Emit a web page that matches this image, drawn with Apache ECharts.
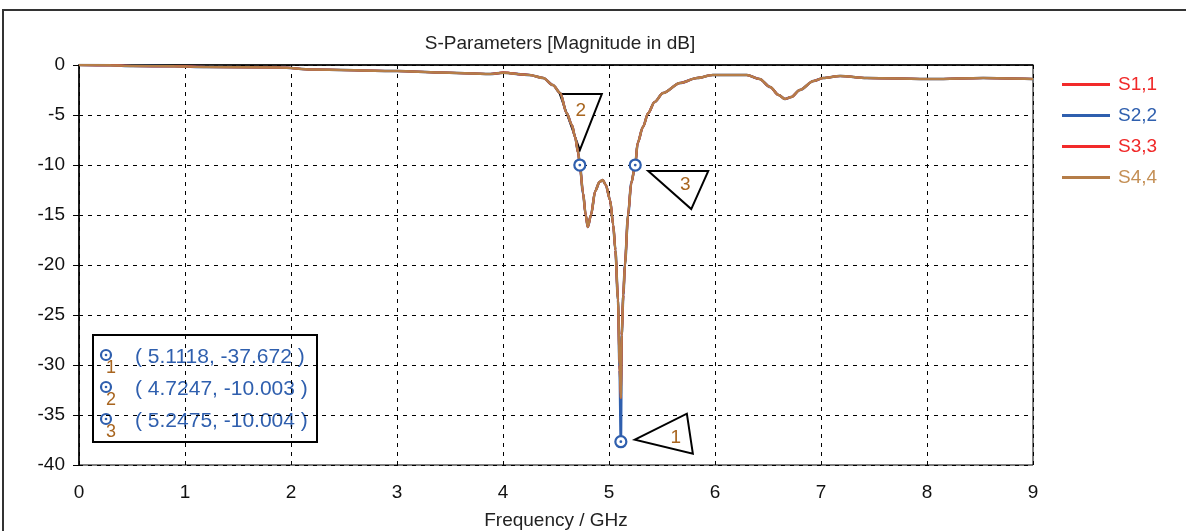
<!DOCTYPE html>
<html><head><meta charset="utf-8">
<script src="https://cdn.jsdelivr.net/npm/echarts@6/dist/echarts.min.js"></script>
<style>html,body{margin:0;padding:0;background:#fff}#c{width:1186px;height:531px}</style>
</head><body><div id="c"></div>
<script>
// ---- data ----
const freq = [0,0.3,0.5,0.9,1.2,1.9,2.2,3.0,3.4,3.88,4.0,4.25,4.38,4.47,4.54,4.6,4.65,4.68,4.71,4.7247,4.755,4.78,4.8,4.83,4.87,4.91,4.94,4.97,5.01,5.04,5.06,5.085,5.1,5.1118,5.12,5.135,5.15,5.18,5.21,5.2475,5.27,5.32,5.37,5.43,5.51,5.67,5.83,5.98,6.3,6.42,6.52,6.6,6.66,6.72,6.8,6.93,7.02,7.18,7.43,8.06,8.53,9];
const s44 = [0,-0.02,-0.1,-0.12,-0.2,-0.25,-0.45,-0.6,-0.75,-0.9,-0.77,-1.0,-1.3,-2.0,-2.8,-4.8,-6.0,-7.2,-8.8,-10.0,-12.8,-15.0,-16.2,-15.0,-12.6,-11.7,-11.5,-12.0,-13.5,-16,-18.5,-23.5,-30,-33.3,-27,-23,-20,-15,-11.8,-10.0,-7.8,-6.2,-4.8,-3.7,-2.8,-1.8,-1.3,-1.0,-1.0,-1.4,-2.2,-3.0,-3.4,-3.2,-2.5,-1.6,-1.3,-1.1,-1.3,-1.4,-1.3,-1.4];
const s22 = [0,-0.02,-0.1,-0.12,-0.2,-0.25,-0.45,-0.6,-0.75,-0.9,-0.77,-1.0,-1.3,-2.0,-2.8,-4.8,-6.0,-7.2,-8.8,-10.003,-12.8,-15.0,-16.2,-15.0,-12.6,-11.7,-11.5,-12.0,-13.5,-16,-18.5,-23.5,-30.5,-37.672,-27,-23,-20,-15,-11.8,-10.004,-7.8,-6.2,-4.8,-3.7,-2.8,-1.8,-1.3,-1.0,-1.0,-1.4,-2.2,-3.0,-3.4,-3.2,-2.5,-1.6,-1.3,-1.1,-1.3,-1.4,-1.3,-1.4];
const s11 = s44.slice();
const s33 = s44.slice();
const seriesNames = ['S1,1','S2,2','S3,3','S4,4'];
const markerIds = ['1','2','3'];
const markerFreq = [5.1118, 4.7247, 5.2475];
const markerDb = [-37.672, -10.003, -10.004];
const xTicks = [0,1,2,3,4,5,6,7,8,9];
const yTicks = [0,-5,-10,-15,-20,-25,-30,-35,-40];
const titleText = 'S-Parameters [Magnitude in dB]';
const xName = 'Frequency / GHz';

// ---- styling ----
const colors = ['#f22a2a','#2f5fae','#f22a2a','#b57d48'];
const widths = [2.2,2.6,2.2,2.4];
const legendTextColors = ['#f02828','#2f5fae','#f02828','#c48f55'];
const FONT = 'Liberation Sans';
const blue = '#2f5fae';
const brownText = '#a8651f';
// callout triangle shapes relative to marker (pixels)
const callouts = [
  {tri:[[14,-2],[66,-28],[72,12]], txt:[55,-4]},
  {tri:[[-20,-71],[22,-71],[0,-15]], txt:[1,-54]},
  {tri:[[13,6],[73,6],[56,44]], txt:[50,20]}
];

const toPairs = arr => freq.map((f,i)=>[f,arr[i]]);
const chart = echarts.init(document.getElementById('c'));
const lineData = [s11,s22,s33,s44];
const series = seriesNames.map((n,i)=>({
  name:n, type:'line', data:toPairs(lineData[i]), showSymbol:false, symbol:'none',
  smooth:0.3, smoothMonotone:'x', z:3,
  lineStyle:{color:colors[i], width:widths[i]}, itemStyle:{color:colors[i]}
}));
const mkData = markerFreq.map((f,i)=>[f,markerDb[i],i]);
series.push({
  type:'custom', z:2, silent:true, data:mkData,
  renderItem:(params,api)=>{
    const p = api.coord([api.value(0),api.value(1)]);
    const c = callouts[api.value(2)];
    return {type:'group', children:[
      {type:'polygon', shape:{points:c.tri.map(o=>[p[0]+o[0],p[1]+o[1]])}, style:{fill:'#fff',stroke:'#000',lineWidth:2}},
      {type:'text', x:p[0]+c.txt[0], y:p[1]+c.txt[1], style:{text:markerIds[api.value(2)],fill:brownText,font:'19px '+FONT,align:'center',verticalAlign:'middle'}}
    ]};
  }
});
series.push({
  type:'custom', z:5, silent:true, data:mkData,
  renderItem:(params,api)=>{
    const p = api.coord([api.value(0),api.value(1)]);
    return {type:'group', children:[
      {type:'circle', shape:{cx:p[0],cy:p[1],r:5.5}, style:{fill:'#fff',stroke:blue,lineWidth:2.2}},
      {type:'circle', shape:{cx:p[0],cy:p[1],r:1.4}, style:{fill:blue}}
    ]};
  }
});

// marker readout box
const boxChildren = [{type:'rect', shape:{x:93,y:335,width:224,height:107}, style:{fill:'#fff',stroke:'#000',lineWidth:2}}];
markerFreq.forEach((f,i)=>{
  const y = 355 + i*32;
  boxChildren.push({type:'circle', shape:{cx:106,cy:y,r:5}, style:{fill:'#fff',stroke:blue,lineWidth:2.2}});
  boxChildren.push({type:'circle', shape:{cx:106,cy:y,r:1.3}, style:{fill:blue}});
  boxChildren.push({type:'text', x:111, y:y+13, style:{text:markerIds[i],fill:brownText,font:'18px '+FONT,align:'center',verticalAlign:'middle'}});
  boxChildren.push({type:'text', x:135, y:y+2, style:{text:'( '+f.toFixed(4)+', '+markerDb[i].toFixed(3)+' )',fill:blue,font:'21px '+FONT,align:'left',verticalAlign:'middle'}});
});

chart.setOption({
  animation:false,
  backgroundColor:'#fff',
  title:{text:titleText,left:555,textAlign:'center',top:29,textStyle:{fontFamily:FONT,fontSize:19,fontWeight:'normal',color:'#222'}},
  legend:{orient:'vertical',left:1057,top:70,icon:'rect',itemWidth:48,itemHeight:3,itemGap:12,
    data:seriesNames.map((n,i)=>({name:n,textStyle:{color:legendTextColors[i]}})),
    textStyle:{fontFamily:FONT,fontSize:19,padding:[0,0,0,3]}},
  grid:{left:79,right:153,top:65,bottom:66,outerBoundsMode:'none',containLabel:false,show:true,borderColor:'#000',borderWidth:1,backgroundColor:'#fff'},
  xAxis:{type:'value',min:0,max:9,interval:1,name:xName,nameLocation:'middle',nameGap:46,
    nameTextStyle:{fontFamily:FONT,fontSize:19,color:'#222'},
    axisLine:{lineStyle:{color:'#000',width:1.5}},axisTick:{show:false},
    axisLabel:{fontFamily:FONT,fontSize:19,color:'#111',margin:18,formatter:v=>xTicks.includes(v)?String(v):''},
    splitLine:{show:true,lineStyle:{color:'#000',type:[4,5],width:1}}},
  yAxis:{type:'value',min:-40,max:0,interval:5,
    axisLine:{show:true,lineStyle:{color:'#000',width:1.5}},axisTick:{show:true,length:6,lineStyle:{color:'#000'}},
    axisLabel:{fontFamily:FONT,fontSize:19,color:'#111',margin:14,formatter:v=>yTicks.includes(v)?String(v):''},
    splitLine:{show:true,lineStyle:{color:'#000',type:[4,5],width:1}}},
  graphic:[
    {type:'polyline',shape:{points:[[3,531],[3,10],[1186,10]]},style:{stroke:'#333',lineWidth:2,fill:null},z:0},
    {type:'group',z:10,children:boxChildren}
  ],
  series:series
});
</script></body></html>
